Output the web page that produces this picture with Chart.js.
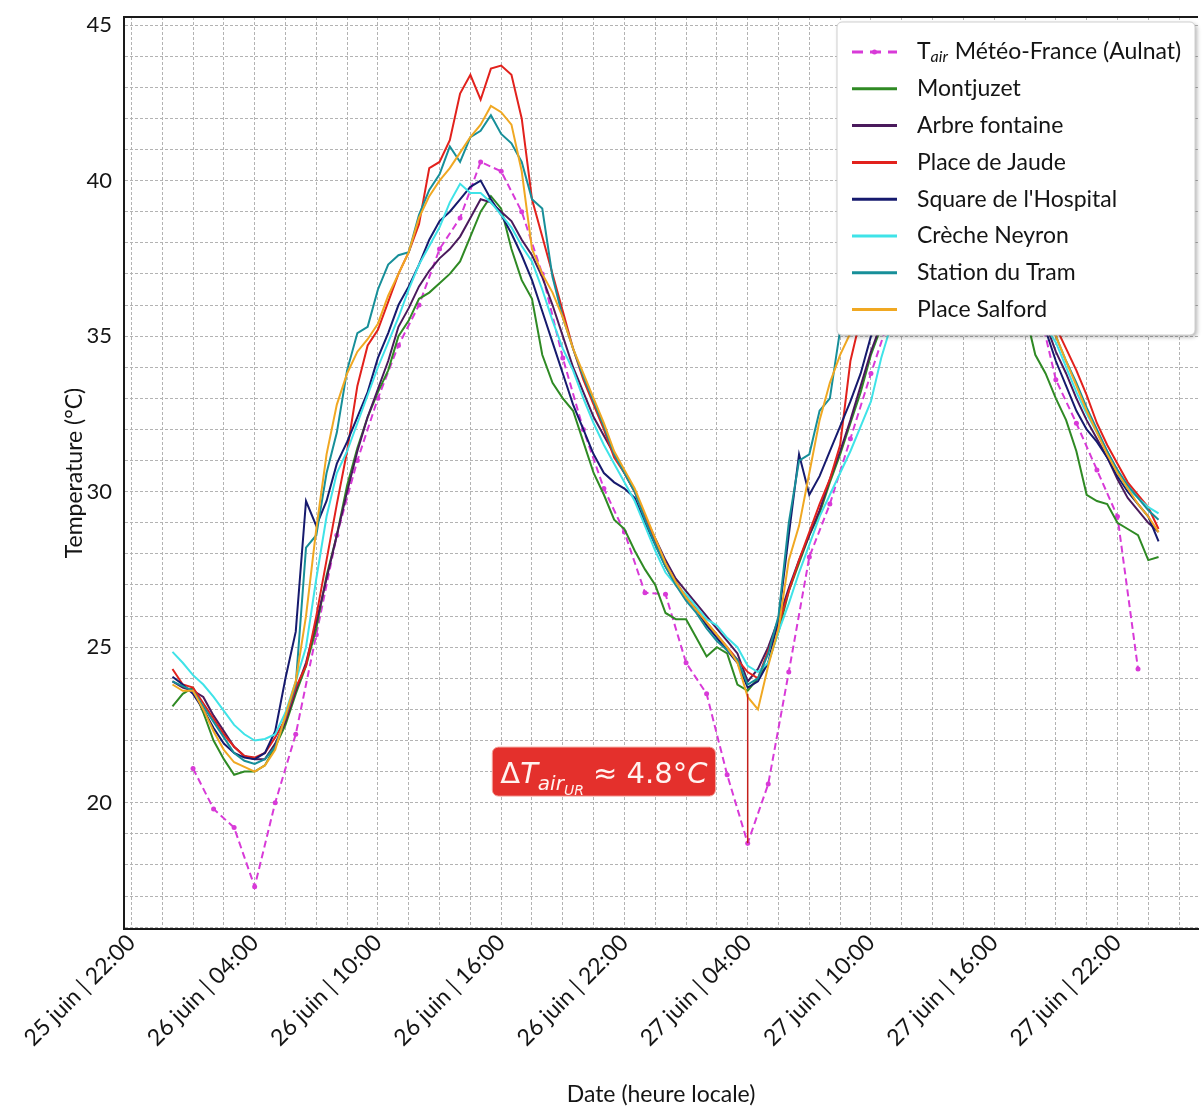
<!DOCTYPE html>
<html>
<head>
<meta charset="utf-8">
<script src="https://cdn.jsdelivr.net/npm/chart.js@4.4.0/dist/chart.umd.min.js"></script>
<style>
  html, body { margin: 0; padding: 0; background: #fff; }
  canvas { display: block; }
</style>
</head>
<body>
<canvas id="tempChart" width="1202" height="1108"></canvas>
<script>
// x values are hours counted from 25 juin 22:00
const majorTickLabels = ['25 juin | 22:00', '26 juin | 04:00', '26 juin | 10:00', '26 juin | 16:00',
  '26 juin | 22:00', '27 juin | 04:00', '27 juin | 10:00', '27 juin | 16:00', '27 juin | 22:00'];

// stations: every 30 min from 26 juin 00:00 to 28 juin 00:00
const stationHours = Array.from({ length: 97 }, (_, i) => 2 + i * 0.5);
// Météo-France: hourly from 26 juin 01:00 to 27 juin 23:00
const meteoHours = Array.from({ length: 47 }, (_, i) => 3 + i);

const meteoFrance = [21.1, 19.8, 19.2, 17.3, 20.0, 22.2, 25.4, 28.6, 31.0, 33.0,
  34.7, 36.0, 37.8, 38.8, 40.6, 40.3, 39.0, 37.0, 34.3, 32.0,
  30.1, 28.7, 26.75, 26.7, 24.5, 23.5, 20.9, 18.7, 20.6, 24.2,
  27.9, 29.6, 31.7, 33.8, 35.8, 37.4, 38.6, 39.5, 40.0, 39.5,
  38.2, 36.4, 33.6, 32.2, 30.7, 29.2, 24.3];

const montjuzet = [23.1, 23.5, 23.7, 22.9, 22.0, 21.4, 20.9, 21.0, 21.0, 21.2,
  21.8, 22.5, 23.5, 24.4, 25.6, 27.3, 28.6, 30.2, 31.4, 32.4,
  33.2, 33.9, 35.0, 35.5, 36.2, 36.4, 36.7, 37.0, 37.4, 38.2,
  39.0, 39.5, 39.1, 37.8, 36.8, 36.2, 34.4, 33.5, 33.0, 32.6,
  31.6, 30.6, 29.9, 29.1, 28.8, 28.1, 27.5, 27.0, 26.1, 25.9,
  25.9, 25.3, 24.7, 25.0, 24.8, 23.8, 23.6, 24.0, 24.5, 25.5,
  26.8, 27.7, 28.6, 29.3, 30.3, 31.2, 32.2, 33.2, 34.4, 35.3,
  36.2, 37.0, 37.8, 38.5, 39.0, 39.4, 39.7, 39.8, 39.6, 39.2,
  38.6, 37.8, 36.8, 35.8, 34.4, 33.8, 33.0, 32.3, 31.3, 29.9,
  29.7, 29.6, 29.0, 28.8, 28.6, 27.8, 27.9];

const arbreFontaine = [23.9, 23.7, 23.6, 23.4, 22.8, 22.3, 21.8, 21.5, 21.4, 21.4,
  21.9, 22.6, 23.6, 24.5, 25.8, 27.2, 28.6, 30.0, 31.3, 32.4,
  33.3, 34.2, 35.3, 35.9, 36.6, 37.1, 37.5, 37.8, 38.2, 38.8,
  39.4, 39.3, 39.0, 38.7, 38.1, 37.6, 36.9, 36.0, 35.0, 34.0,
  33.2, 32.4, 31.8, 31.2, 30.6, 30.0, 29.2, 28.5, 27.8, 27.2,
  26.8, 26.4, 26.0, 25.6, 25.2, 24.8, 23.9, 24.3, 25.0, 25.9,
  26.9, 27.8, 28.6, 29.4, 30.4, 31.3, 32.3, 33.4, 34.5, 35.4,
  36.3, 37.1, 37.9, 38.6, 39.2, 39.7, 40.1, 40.3, 40.3, 40.1,
  39.7, 39.1, 38.3, 37.4, 36.4, 35.4, 34.5, 33.8, 33.0, 32.3,
  31.7, 31.1, 30.4, 29.8, 29.4, 29.0, 28.7];

const placeJaude = [24.3, 23.8, 23.7, 23.2, 22.7, 22.2, 21.8, 21.5, 21.45, 21.6,
  22.1, 22.7, 23.7, 24.4, 26.0, 27.8, 29.6, 31.3, 33.4, 34.7,
  35.2, 36.1, 37.0, 37.7, 38.6, 40.4, 40.6, 41.3, 42.8, 43.4,
  42.6, 43.6, 43.7, 43.4, 42.0, 39.4, 38.2, 37.0, 35.8, 34.6,
  33.6, 32.8, 32.0, 31.1, 30.6, 30.0, 29.2, 28.4, 27.6, 27.0,
  26.6, 26.2, 25.8, 25.4, 25.0, 24.6, 24.2, 24.0, 24.9, 25.7,
  26.8, 27.8, 28.7, 29.6, 30.4, 31.5, 34.2, 35.6, 36.4, 37.2,
  38.0, 38.8, 39.5, 40.2, 40.8, 41.3, 41.7, 41.9, 41.9, 41.6,
  41.0, 40.2, 39.2, 38.2, 37.2, 36.2, 35.3, 34.6, 33.9, 33.1,
  32.2, 31.5, 30.9, 30.3, 29.9, 29.5, 28.8];

const squareHospital = [24.05, 23.8, 23.5, 23.0, 22.4, 21.9, 21.6, 21.45, 21.4, 21.6,
  22.3, 24.0, 25.5, 29.7, 28.9, 29.7, 30.9, 31.6, 32.4, 33.2,
  34.3, 35.1, 36.0, 36.6, 37.3, 38.1, 38.7, 39.0, 39.4, 39.8,
  40.0, 39.4, 38.9, 38.3, 37.6, 36.8, 35.8, 34.8, 33.8, 32.8,
  32.0, 31.2, 30.6, 30.3, 30.1, 29.8, 29.0, 28.3, 27.6, 27.1,
  26.6, 26.2, 25.7, 25.3, 24.9, 24.5, 23.7, 23.9, 24.5, 25.9,
  28.6, 31.2, 29.9, 30.5, 31.3, 32.1, 32.9, 33.8, 35.0, 35.8,
  36.6, 37.4, 38.1, 38.8, 39.4, 39.9, 40.2, 40.3, 40.1, 39.7,
  39.1, 38.3, 37.4, 36.5, 35.7, 35.2, 34.2, 33.4, 32.6, 32.0,
  31.6, 31.1, 30.5, 30.0, 29.6, 29.2, 28.4];

const crecheNeyron = [24.85, 24.5, 24.1, 23.8, 23.4, 22.95, 22.5, 22.2, 22.0, 22.05,
  22.2, 22.9, 23.9, 25.0, 27.2, 29.2, 30.6, 31.3, 32.2, 33.1,
  34.0, 34.8, 35.6, 36.5, 37.3, 37.9, 38.5, 39.3, 39.9, 39.6,
  39.6, 39.3, 38.9, 38.5, 37.9, 37.4, 36.5, 35.5, 34.6, 33.9,
  33.0, 32.2, 31.5, 30.9, 30.3, 29.7, 28.9, 28.1, 27.4, 27.0,
  26.7, 26.3, 25.9, 25.7, 25.3, 25.0, 24.4, 24.2, 24.5, 25.5,
  26.4, 27.4, 28.3, 29.2, 29.9, 30.6, 31.3, 32.1, 32.9, 34.3,
  35.4, 36.3, 37.2, 38.0, 38.8, 39.4, 39.9, 40.2, 40.2, 39.9,
  39.4, 38.7, 37.9, 37.0, 36.0, 35.3, 34.8, 34.0, 33.2, 32.5,
  31.9, 31.3, 30.6, 30.1, 29.8, 29.5, 29.3];

const stationTram = [23.9, 23.75, 23.6, 23.1, 22.6, 22.1, 21.6, 21.35, 21.25, 21.4,
  21.8, 22.75, 23.8, 28.2, 28.6, 30.6, 31.9, 33.9, 35.1, 35.3,
  36.5, 37.3, 37.6, 37.7, 38.9, 39.7, 40.2, 41.1, 40.6, 41.4,
  41.6, 42.1, 41.5, 41.2, 40.6, 39.4, 39.1, 36.9, 35.6, 34.6,
  33.7, 32.9, 32.1, 31.2, 30.6, 30.0, 29.1, 28.3, 27.6, 27.0,
  26.5, 26.1, 25.6, 25.2, 24.9, 24.6, 23.8, 24.0, 24.8, 26.0,
  29.0, 31.0, 31.2, 32.6, 33.0, 35.2, 36.0, 36.8, 37.6, 38.3,
  39.0, 39.6, 40.2, 40.7, 41.1, 41.4, 41.6, 41.6, 41.4, 41.0,
  40.4, 39.6, 38.7, 37.8, 36.8, 35.9, 35.0, 34.2, 33.5, 32.7,
  32.0, 31.3, 30.7, 30.2, 29.8, 29.4, 29.1];

const placeSalford = [23.8, 23.6, 23.6, 23.0, 22.3, 21.7, 21.3, 21.15, 21.0, 21.2,
  21.7, 22.8, 23.9, 26.0, 28.8, 31.2, 32.8, 33.8, 34.5, 34.9,
  35.4, 36.3, 37.0, 37.7, 38.8, 39.5, 40.0, 40.4, 40.9, 41.4,
  41.8, 42.4, 42.2, 41.8, 40.3, 37.8, 37.0, 36.4, 35.6, 34.6,
  33.8, 33.0, 32.2, 31.3, 30.7, 30.1, 29.3, 28.5, 27.7, 27.1,
  26.6, 26.2, 25.8, 25.4, 25.0, 24.5, 23.4, 23.0, 24.4, 25.6,
  27.8, 28.9, 30.6, 32.3, 33.5, 34.4, 35.1, 35.9, 36.7, 37.5,
  38.3, 39.0, 39.7, 40.3, 40.8, 41.2, 41.5, 41.6, 41.4, 41.0,
  40.3, 39.5, 38.6, 37.6, 36.6, 35.8, 35.0, 34.2, 33.4, 32.6,
  31.9, 31.2, 30.6, 30.1, 29.6, 29.2, 28.7];

// annotation: gap between Météo-France and the stations at 27 juin 04:00
const deltaHour = 30;
const deltaLow = 18.7;
const deltaHigh = 23.5;
const deltaLabelAt = { x: 23, y: 21 };

const toPoints = (hours, temps) => temps.map((v, i) => ({ x: hours[i], y: v }));

const stations = [
  { label: 'Montjuzet', temps: montjuzet, color: '#2f8a24' },
  { label: 'Arbre fontaine', temps: arbreFontaine, color: '#4a1a5c' },
  { label: 'Place de Jaude', temps: placeJaude, color: '#e2211c' },
  { label: "Square de l'Hospital", temps: squareHospital, color: '#161a6e' },
  { label: 'Crèche Neyron', temps: crecheNeyron, color: '#3fe3e8' },
  { label: 'Station du Tram', temps: stationTram, color: '#178f99' },
  { label: 'Place Salford', temps: placeSalford, color: '#f0a822' }
];

const datasets = [{
  label: 'T_air Météo-France (Aulnat)',
  data: toPoints(meteoHours, meteoFrance),
  borderColor: '#d83ad8',
  backgroundColor: '#d83ad8',
  borderWidth: 2,
  borderDash: [7, 4],
  pointRadius: 2.5,
  pointBorderWidth: 0,
  order: 9
}].concat(stations.map((s, i) => ({
  label: s.label,
  data: toPoints(stationHours, s.temps),
  borderColor: s.color,
  backgroundColor: s.color,
  borderWidth: 2,
  pointRadius: 0,
  order: 8 - i
})));

const fontName = 'Lato';

const deltaAnnotation = {
  id: 'deltaAnnotation',
  afterDatasetsDraw(chart) {
    const { ctx, scales: { x, y } } = chart;
    const px = x.getPixelForValue(deltaHour);
    ctx.save();
    ctx.strokeStyle = '#c41f1b';
    ctx.lineWidth = 1.5;
    ctx.beginPath();
    ctx.moveTo(px, y.getPixelForValue(deltaLow));
    ctx.lineTo(px, y.getPixelForValue(deltaHigh));
    ctx.stroke();

    const parts = [
      { t: 'Δ', f: '29px "DejaVu Sans"', dy: 0 },
      { t: 'T', f: 'italic 29px "DejaVu Sans"', dy: 0 },
      { t: 'air', f: 'italic 20px "DejaVu Sans"', dy: 7 },
      { t: 'UR', f: 'italic 14px "DejaVu Sans"', dy: 12 },
      { t: ' ≈ 4.8°', f: '29px "DejaVu Sans"', dy: 0 },
      { t: 'C', f: 'italic 29px "DejaVu Sans"', dy: 0 }
    ];
    let total = 0;
    parts.forEach(p => { ctx.font = p.f; p.w = ctx.measureText(p.t).width; total += p.w; });
    const cx = x.getPixelForValue(deltaLabelAt.x);
    const cy = y.getPixelForValue(deltaLabelAt.y);
    const bw = total + 16, bh = 49;
    ctx.fillStyle = '#e4302c';
    ctx.strokeStyle = '#f3a19a';
    ctx.lineWidth = 1;
    ctx.beginPath();
    ctx.roundRect(cx - bw / 2, cy - bh / 2, bw, bh, 6);
    ctx.fill();
    ctx.stroke();
    ctx.fillStyle = '#fff3f0';
    ctx.textBaseline = 'alphabetic';
    let tx = cx - total / 2;
    const base = cy + 11;
    parts.forEach(p => {
      ctx.font = p.f;
      ctx.fillText(p.t, tx, base + p.dy);
      tx += p.w;
    });
    ctx.restore();
  }
};

const legendBox = {
  id: 'legendBox',
  afterDatasetsDraw(chart) {
    const { ctx, chartArea } = chart;
    const w = 358, h = 313, rowH = 36.8;
    const x0 = chartArea.right - 3 - w, y0 = chartArea.top + 5;
    ctx.save();
    ctx.shadowColor = 'rgba(0,0,0,0.3)';
    ctx.shadowBlur = 4;
    ctx.shadowOffsetX = 2;
    ctx.shadowOffsetY = 2;
    ctx.fillStyle = '#ffffff';
    ctx.beginPath();
    ctx.roundRect(x0, y0, w, h, 5);
    ctx.fill();
    ctx.shadowColor = 'transparent';
    ctx.strokeStyle = '#cfcfcf';
    ctx.lineWidth = 1;
    ctx.stroke();

    chart.data.datasets.forEach((ds, i) => {
      const yc = y0 + 30 + i * rowH;
      ctx.strokeStyle = ds.borderColor;
      ctx.lineWidth = 3;
      ctx.setLineDash(ds.borderDash ? [11, 7] : []);
      ctx.beginPath();
      ctx.moveTo(x0 + 15, yc);
      ctx.lineTo(x0 + 60, yc);
      ctx.stroke();
      ctx.setLineDash([]);
      if (ds.pointRadius) {
        ctx.fillStyle = ds.borderColor;
        ctx.beginPath();
        ctx.arc(x0 + 37.5, yc, 2.5, 0, Math.PI * 2);
        ctx.fill();
      }
      ctx.fillStyle = '#151515';
      ctx.textBaseline = 'middle';
      let tx = x0 + 80;
      let text = ds.label;
      if (text.startsWith('T_air')) {
        ctx.font = `23px ${fontName}`;
        ctx.fillText('T', tx, yc);
        tx += ctx.measureText('T').width;
        ctx.font = `italic 16px ${fontName}`;
        ctx.fillText('air', tx, yc + 5);
        tx += ctx.measureText('air').width + 1;
        text = text.slice(5);
      }
      ctx.font = `23px ${fontName}`;
      ctx.fillText(text, tx, yc);
    });
    ctx.restore();
  }
};

const frameTop = {
  id: 'frameTop',
  afterDraw(chart) {
    const { ctx, chartArea: a } = chart;
    ctx.save();
    ctx.strokeStyle = '#1a1a1a';
    ctx.lineWidth = 2;
    ctx.beginPath();
    ctx.moveTo(a.left, a.top);
    ctx.lineTo(a.right, a.top);
    ctx.stroke();
    ctx.restore();
  }
};

const ctx = document.getElementById('tempChart').getContext('2d');
new Chart(ctx, {
  type: 'line',
  data: { datasets: datasets },
  options: {
    responsive: false,
    animation: false,
    layout: { padding: { top: 17, right: 1, left: 0, bottom: 0 } },
    elements: { line: { tension: 0 } },
    plugins: { legend: { display: false }, tooltip: { enabled: false } },
    scales: {
      x: {
        type: 'linear',
        min: -0.36,
        max: 51.92,
        ticks: {
          stepSize: 1.5,
          includeBounds: false,
          autoSkip: false,
          minRotation: 45,
          maxRotation: 45,
          padding: 0,
          color: '#151515',
          font: { family: fontName, size: 23 },
          callback: (v) => {
            const k = v / 6;
            return Number.isInteger(k) && k >= 0 && k < majorTickLabels.length ? majorTickLabels[k] : '';
          }
        },
        grid: { color: '#b3b3b3', lineWidth: 1, drawTicks: false },
        border: { color: '#1a1a1a', width: 2, dash: [3, 2] },
        title: {
          display: true,
          text: 'Date (heure locale)',
          color: '#151515',
          font: { family: fontName, size: 23 },
          padding: { top: 0, bottom: 0 }
        },
        afterFit: (s) => { s.height = 179; s.paddingLeft = 0; s.paddingRight = 0; }
      },
      y: {
        min: 15.94,
        max: 45.26,
        ticks: {
          stepSize: 1,
          includeBounds: false,
          autoSkip: false,
          padding: 12,
          color: '#151515',
          font: { family: fontName, size: 22 },
          callback: (v) => (Number.isInteger(v) && v % 5 === 0 ? String(v) : '')
        },
        grid: { color: '#b3b3b3', lineWidth: 1, drawTicks: false },
        border: { color: '#1a1a1a', width: 2, dash: [3, 2] },
        title: {
          display: true,
          text: 'Temperature (°C)',
          color: '#151515',
          font: { family: fontName, size: 23 },
          padding: { top: 61, bottom: 0 }
        },
        afterFit: (s) => { s.width = 124; s.paddingTop = 0; s.paddingBottom = 0; }
      }
    }
  },
  plugins: [deltaAnnotation, legendBox, frameTop]
});
</script>
</body>
</html>
